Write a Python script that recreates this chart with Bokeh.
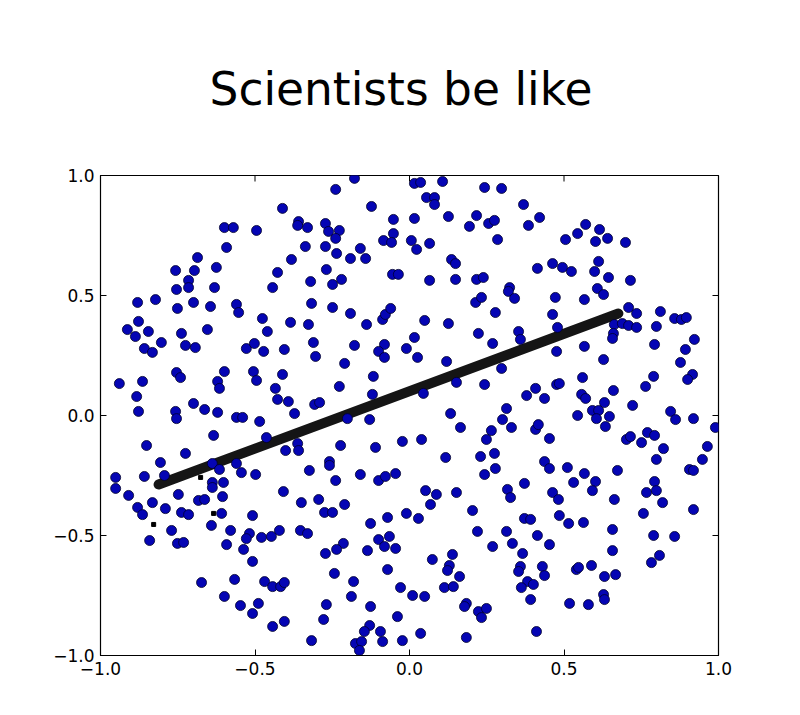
import math
from bokeh.plotting import figure
from bokeh.models import FixedTicker
from bokeh.embed import file_html
from bokeh.resources import INLINE

title_text = "Scientists be like"
tick_values = [-1.0, -0.5, 0.0, 0.5, 1.0]
tick_labels = ["\u22121.0", "\u22120.5", "0.0", "0.5", "1.0"]

# black fitted line (end points) and stray black marks
line_x = [-0.812, 0.676]
line_y = [-0.2875, 0.425]
mark_x = [-0.828, -0.634, -0.676]
mark_y = [-0.454, -0.408, -0.258]

# blue scatter points
pts_x = [
    -0.599, -0.570, -0.495, -0.592, -0.686, -0.757, -0.696, -0.625, -0.715, -0.715,
    -0.754, -0.631, -0.880, -0.822, -0.751, -0.699, -0.644, -0.560, -0.553, -0.877,
    -0.913, -0.845, -0.738, -0.654, -0.887,
    -0.858, -0.832, -0.803, -0.725, -0.693, -0.528, -0.502, -0.754, -0.741, -0.599,
    -0.505, -0.939, -0.864, -0.621, -0.615, -0.495, -0.883, -0.877, -0.757, -0.754,
    -0.699, -0.663, -0.621, -0.560, -0.540, -0.634, -0.851, -0.725, -0.806, -0.638,
    -0.560, -0.615, -0.544, -0.498, -0.793, -0.951, -0.858, -0.951, -0.638, -0.638,
    -0.602, -0.909, -0.748, -0.605,
    -0.880, -0.864, -0.832, -0.790, -0.738, -0.715, -0.683, -0.663, -0.608, -0.641,
    -0.579, -0.518, -0.528, -0.508, -0.770, -0.841, -0.751, -0.731, -0.592, -0.537,
    -0.508, -0.673, -0.566, -0.599, -0.547, -0.508,
    -0.178, -0.239, 0.016, -0.411, -0.123, -0.052, 0.016, -0.359, -0.362, -0.330,
    -0.272, -0.262, -0.227, -0.239, -0.052, -0.084, -0.058, 0.006, 0.023, -0.337,
    -0.272, -0.236, -0.159, -0.382, -0.191, -0.142, -0.427, -0.269, -0.443, -0.320,
    -0.249, -0.220, -0.055, -0.036, -0.317, -0.249, -0.191, -0.087, -0.078, -0.061,
    -0.476, -0.460, -0.385, -0.327, -0.139,
    -0.472, -0.405, -0.311, -0.304, -0.178, -0.081, -0.100, -0.081, -0.010, 0.016,
    -0.210, -0.411, -0.434, -0.427, -0.392, -0.307, -0.291, -0.372, -0.227, -0.117,
    -0.120, -0.485, -0.201, -0.129, -0.463, -0.362, -0.359, -0.401, -0.223, -0.110,
    -0.023, -0.324, -0.259, -0.259, -0.239, -0.159, -0.100, -0.078, -0.045, -0.408,
    -0.350, -0.294, -0.275, -0.249, -0.210, -0.479, -0.447, -0.421, -0.353, -0.330,
    -0.126, -0.071, -0.010, -0.100, -0.065, -0.081, -0.045, -0.136, -0.214, -0.236,
    -0.272, -0.243, -0.071, -0.469, -0.443, -0.417, -0.405, -0.181, -0.029, 0.010,
    -0.188, -0.489, -0.269, -0.126, -0.039, -0.278, -0.443, -0.405, -0.129, -0.146,
    -0.094, -0.317, -0.175, -0.155, -0.162, -0.087, -0.023,
    0.036, 0.107, 0.243, 0.298, 0.055, 0.081, 0.081, 0.369, 0.126, 0.217,
    0.194, 0.256, 0.275, 0.385, 0.421, 0.065, 0.285, 0.505, 0.136, 0.149,
    0.463, 0.495, 0.414, 0.065, 0.149, 0.217, 0.239, 0.324, 0.320, 0.340,
    0.214, 0.233, 0.472, 0.278, 0.463, 0.479, 0.049, 0.126, 0.223, 0.353,
    0.026, 0.269, 0.359, 0.476, 0.120, 0.298, 0.152, 0.243, 0.045, 0.476,
    0.485, 0.408, 0.379, 0.437, 0.133, 0.314, 0.301, 0.330, 0.165, 0.265,
    0.249, 0.408, 0.417, 0.453, 0.039, 0.117, 0.230, 0.275, 0.243, 0.278,
    0.437, 0.453, 0.511, 0.052, 0.087, 0.152, 0.317, 0.372, 0.463,
    0.327, 0.482, 0.068, 0.029, 0.204, 0.372, 0.392, 0.485, 0.515, 0.220,
    0.314, 0.414, 0.333, 0.269, 0.453, 0.366, 0.139, 0.074, 0.129, 0.123,
    0.359, 0.353, 0.430, 0.437, 0.162, 0.382, 0.401, 0.113, 0.142, 0.362,
    0.392, 0.049, 0.184, 0.178, 0.223, 0.233, 0.249, 0.518, 0.036, 0.184,
    0.411,
    0.570, 0.544, 0.615, 0.602, 0.641, 0.699, 0.612, 0.524, 0.599, 0.644,
    0.715, 0.608, 0.628, 0.566, 0.709, 0.735, 0.812, 0.858, 0.880, 0.896,
    0.663, 0.689, 0.709, 0.735, 0.799, 0.660,
    0.657, 0.566, 0.793, 0.922, 0.893, 0.628, 0.877, 0.560, 0.790, 0.764,
    0.916, 0.900, 0.660, 0.557, 0.570, 0.631, 0.722, 0.592, 0.612, 0.605,
    0.647, 0.544, 0.845, 0.861, 0.919, 0.990, 0.634, 0.770, 0.793, 0.702,
    0.715, 0.751, 0.822, 0.964, 0.799, 0.948, 0.566, 0.673, 0.906, 0.919,
    0.531, 0.602, 0.592, 0.793, 0.767, 0.799,
    0.663, 0.819, 0.757, 0.919, 0.563, 0.657, 0.790, 0.858, 0.657, 0.783,
    0.809, 0.540, 0.547, 0.589, 0.631, 0.667, 0.628, 0.631, 0.579,
]
pts_y = [
    0.783, 0.783, 0.771, 0.700, 0.658, 0.604, 0.604, 0.617, 0.563, 0.533,
    0.525, 0.533, 0.471, 0.483, 0.446, 0.471, 0.454, 0.463, 0.429, 0.392,
    0.358, 0.350, 0.342, 0.358, 0.329,
    0.279, 0.263, 0.304, 0.292, 0.283, 0.279, 0.300, 0.179, 0.158, 0.183,
    0.183, 0.133, 0.142, 0.142, 0.113, 0.146, 0.079, 0.017, 0.017, -0.013,
    0.050, 0.025, 0.013, -0.008, -0.008, -0.083, -0.125, -0.158, -0.196, -0.200,
    -0.200, -0.225, -0.238, -0.246, -0.250, -0.258, -0.254, -0.304, -0.279, -0.300,
    -0.279, -0.333, -0.329, -0.338,
    -0.383, -0.413, -0.363, -0.388, -0.404, -0.413, -0.354, -0.350, -0.408, -0.458,
    -0.479, -0.492, -0.513, -0.417, -0.479, -0.521, -0.533, -0.529, -0.538, -0.558,
    -0.608, -0.696, -0.683, -0.754, -0.792, -0.825,
    0.988, 0.942, 0.967, 0.863, 0.871, 0.817, 0.821, 0.808, 0.792, 0.783,
    0.800, 0.767, 0.771, 0.738, 0.758, 0.729, 0.721, 0.729, 0.692, 0.704,
    0.704, 0.675, 0.696, 0.650, 0.654, 0.654, 0.596, 0.608, 0.533, 0.558,
    0.546, 0.567, 0.588, 0.588, 0.467, 0.450, 0.425, 0.400, 0.421, 0.446,
    0.404, 0.350, 0.388, 0.379, 0.379,
    0.267, 0.275, 0.304, 0.246, 0.292, 0.296, 0.267, 0.242, 0.279, 0.325,
    0.217, 0.171, 0.113, 0.067, 0.058, 0.046, 0.054, 0.008, 0.121, 0.163,
    0.088, -0.025, -0.013, -0.017, -0.092, -0.117, -0.146, -0.146, -0.125, -0.133,
    -0.108, -0.229, -0.192, -0.208, -0.271, -0.246, -0.271, -0.254, -0.242, -0.317,
    -0.363, -0.350, -0.404, -0.404, -0.371, -0.508, -0.504, -0.479, -0.479, -0.492,
    -0.450, -0.425, -0.408, -0.517, -0.504, -0.546, -0.554, -0.563, -0.533, -0.558,
    -0.575, -0.658, -0.642, -0.692, -0.713, -0.713, -0.696, -0.692, -0.717, -0.750,
    -0.754, -0.783, -0.788, -0.796, -0.838, -0.850, -0.879, -0.858, -0.875, -0.900,
    -0.900, -0.938, -0.950, -0.942, -0.979, -0.942, -0.938,
    0.971, 0.975, 0.950, 0.946, 0.908, 0.908, 0.879, 0.879, 0.829, 0.833,
    0.788, 0.800, 0.813, 0.792, 0.825, 0.717, 0.733, 0.733, 0.650, 0.633,
    0.633, 0.617, 0.613, 0.563, 0.567, 0.567, 0.575, 0.533, 0.517, 0.488,
    0.471, 0.492, 0.492, 0.429, 0.421, 0.367, 0.396, 0.383, 0.342, 0.350,
    0.242, 0.300, 0.317, 0.267, 0.225, 0.196, 0.138, 0.129, 0.092, 0.129,
    0.133, 0.113, 0.083, 0.071, 0.008, 0.029, -0.017, -0.050, -0.050, -0.063,
    -0.100, -0.058, -0.038, -0.096, -0.100, -0.175, -0.171, -0.158, -0.246, -0.221,
    -0.192, -0.221, -0.217, -0.313, -0.329, -0.321, -0.308, -0.283, -0.321,
    -0.342, -0.350, -0.371, -0.429, -0.396, -0.429, -0.433, -0.417, -0.450, -0.483,
    -0.483, -0.500, -0.533, -0.546, -0.538, -0.575, -0.579, -0.600, -0.625, -0.646,
    -0.629, -0.650, -0.629, -0.667, -0.671, -0.692, -0.704, -0.717, -0.713, -0.717,
    -0.767, -0.754, -0.783, -0.796, -0.817, -0.842, -0.804, -0.783, -0.908, -0.925,
    -0.900,
    0.796, 0.758, 0.775, 0.725, 0.738, 0.721, 0.642, 0.600, 0.600, 0.575,
    0.563, 0.529, 0.504, 0.483, 0.450, 0.425, 0.433, 0.404, 0.400, 0.408,
    0.379, 0.383, 0.375, 0.367, 0.371, 0.342,
    0.321, 0.288, 0.296, 0.317, 0.275, 0.233, 0.221, 0.158, 0.163, 0.121,
    0.171, 0.150, 0.104, 0.088, 0.071, 0.054, 0.042, 0.021, 0.021, -0.013,
    -0.004, 0.000, 0.017, -0.017, -0.013, -0.050, -0.046, -0.071, -0.083, -0.100,
    -0.088, -0.113, -0.138, -0.129, -0.183, -0.183, -0.242, -0.229, -0.225, -0.229,
    -0.279, -0.275, -0.313, -0.275, -0.321, -0.313,
    -0.350, -0.363, -0.408, -0.392, -0.446, -0.475, -0.500, -0.504, -0.563, -0.613,
    -0.583, -0.642, -0.633, -0.625, -0.671, -0.663, -0.746, -0.767, -0.788,
]

p = figure(width=792, height=707, x_range=(-1, 1), y_range=(-1, 1),
           output_backend="svg", toolbar_location=None,
           min_border_left=100, min_border_right=74,
           min_border_top=175, min_border_bottom=52)

p.title.text = title_text
p.title.align = "left"
p.title.offset = 109
p.title.vertical_align = "middle"
p.title.text_font = "DejaVu Sans"
p.title.text_font_size = "45.5px"
p.title.text_font_style = "normal"
p.title.text_color = "black"
p.title.standoff = 118

p.grid.visible = False
p.background_fill_color = "white"
p.border_fill_color = "white"
p.outline_line_color = "black"
p.outline_line_width = 1.2

ticker = FixedTicker(ticks=tick_values)
overrides = {v: lab for v, lab in zip(tick_values, tick_labels)}

for ax in (p.xaxis[0], p.yaxis[0]):
    ax.ticker = ticker
    ax.major_label_overrides = overrides
    ax.major_label_text_font = "DejaVu Sans"
    ax.major_label_text_font_size = "17px"
    ax.major_label_text_color = "black"
    ax.major_tick_in = 6
    ax.major_tick_out = 0
    ax.major_tick_line_color = "black"
    ax.minor_tick_line_color = None
    ax.axis_line_color = "black"
    ax.major_label_standoff = 6

# inward ticks on the top and right edges (outer half clipped by the frame)
p.scatter(tick_values, [1.0] * len(tick_values), marker="dash", angle=math.pi / 2,
          size=12, line_color="black", line_width=1)
p.scatter([1.0] * len(tick_values), tick_values, marker="dash", angle=0,
          size=12, line_color="black", line_width=1)

p.line(line_x, line_y, line_width=10, line_color="#151515", line_cap="round")

p.scatter(pts_x, pts_y, size=10, fill_color="#0505b4", line_color="#00002a",
          line_width=0.8)

p.scatter(mark_x, mark_y, marker="square", size=4, color="black")

open("out.html", "w").write(file_html(p, INLINE))
